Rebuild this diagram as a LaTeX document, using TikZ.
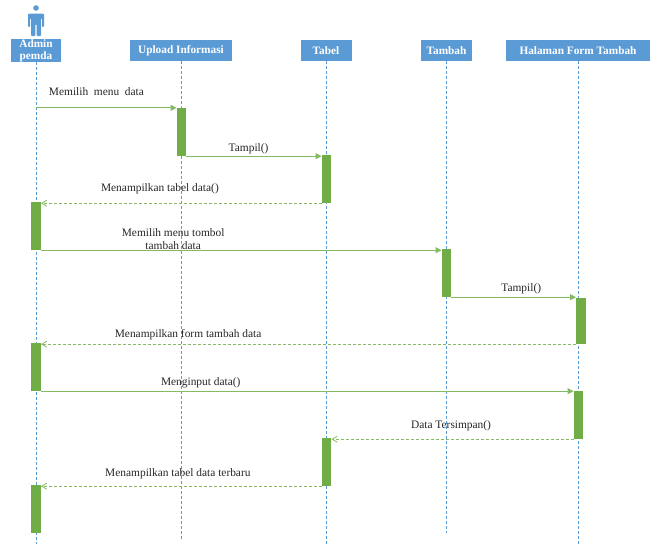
\documentclass[tikz,border=0pt]{standalone}
\usepackage{fontspec}
\setmainfont{Liberation Serif}
\usepackage{xcolor}
\usetikzlibrary{arrows.meta, positioning}
\definecolor{headblue}{RGB}{91, 155, 213}
\definecolor{bargreen}{RGB}{112, 173, 71}

\begin{document}
\begin{tikzpicture}[
    x=1pt, y=-1pt,
    head/.style={rectangle, fill=headblue, text=white, minimum height=21pt, inner sep=0pt, align=center, font=\fontsize{11.3}{12}\selectfont\bfseries},
    lifeline/.style={headblue, densely dashed, line width=0.7pt},
    bar/.style={rectangle, fill=bargreen, minimum width=9.5pt, inner sep=0pt},
    msg/.style={-{Triangle[length=6pt, width=6pt]}, bargreen!85, line width=0.9pt},
    reply/.style={-{Straight Barb[length=5pt, width=6pt]}, bargreen!85, densely dashed, line width=0.8pt},
    lbl/.style={inner sep=0pt, align=center, text=black!85, font=\fontsize{11.4}{13}\selectfont}
]
    \useasboundingbox (0,0) rectangle (659,544);

    % actor
    \node[circle, fill=headblue, minimum size=5.6pt, inner sep=0pt] (actor) at (36,8) {};
    \fill[headblue, rounded corners=1pt] (28,13.5) -- (44,13.5) -- (44,27) -- (42,27) -- (42,18) -- (41,18) -- (41,36) -- (36.6,36) -- (36.6,24) -- (35.4,24) -- (35.4,36) -- (31,36) -- (31,18) -- (30,18) -- (30,27) -- (28,27) -- cycle;

    \node[head, minimum width=50pt] (admin) at (36,50.5) {Admin\\pemda};
    \node[head, minimum width=102pt] (upload) at (181,50.5) {Upload Informasi};
    \node[head, minimum width=51pt] (tabel) at (326,50.5) {Tabel};
    \node[head, minimum width=51pt] (tambah) at (446.5,50.5) {Tambah};
    \node[head, minimum width=144pt] (halaman) at (578,50.5) {Halaman Form Tambah};

    \coordinate (adminend) at (36,544);
    \coordinate (uploadend) at (181,541);
    \coordinate (tabelend) at (326,544);
    \coordinate (tambahend) at (446.5,533);
    \coordinate (halamanend) at (578,544);

    \draw[lifeline] (admin) -- (adminend);
    \draw[lifeline] (upload) -- (uploadend);
    \draw[lifeline] (tabel) -- (tabelend);
    \draw[lifeline] (tambah) -- (tambahend);
    \draw[lifeline] (halaman) -- (halamanend);

    \node[bar, minimum height=48pt] (bara) at (181.5,132) {};
    \node[bar, minimum height=48pt] (barb) at (326.5,179) {};
    \node[bar, minimum height=48pt] (barc) at (36,226) {};
    \node[bar, minimum height=48pt] (bard) at (446.5,273) {};
    \node[bar, minimum height=46pt] (bare) at (581,321) {};
    \node[bar, minimum height=48pt] (barf) at (36,367) {};
    \node[bar, minimum height=48pt] (barg) at (578.5,415) {};
    \node[bar, minimum height=48pt] (barh) at (326.5,462) {};
    \node[bar, minimum height=48pt] (bari) at (36,509) {};

    \draw[msg] (admin |- bara.north) -- node[lbl, pos=0.43, yshift=16pt] {Memilih\ \ menu\ \ data} (bara.north west);
    \draw[msg] (bara.south east) -- node[lbl, pos=0.46, yshift=7.5pt] {Tampil()} (barb.west |- bara.south);
    \draw[reply] (barb.south west) -- node[lbl, pos=0.576, yshift=14pt] {Menampilkan tabel data()} (barc.east |- barb.south);
    \draw[msg] (barc.south east) -- node[lbl, pos=0.33, yshift=11pt] {Memilih menu tombol\\tambah data} (bard.west |- barc.south);
    \draw[msg] (bard.south east) -- node[lbl, pos=0.56, yshift=8pt] {Tampil()} (bare.west |- bard.south);
    \draw[reply] (bare.south west) -- node[lbl, pos=0.725, yshift=10pt] {Menampilkan form tambah data} (barf.east |- bare.south);
    \draw[msg] (barf.south east) -- node[lbl, pos=0.30, yshift=8pt] {Menginput data()} (barg.west |- barf.south);
    \draw[reply] (barg.south west) -- node[lbl, pos=0.506, yshift=13pt] {Data Tersimpan()} (barh.east |- barg.south);
    \draw[reply] (barh.south west) -- node[lbl, pos=0.512, yshift=12pt] {Menampilkan tabel data terbaru} (bari.east |- barh.south);
\end{tikzpicture}
\end{document}
